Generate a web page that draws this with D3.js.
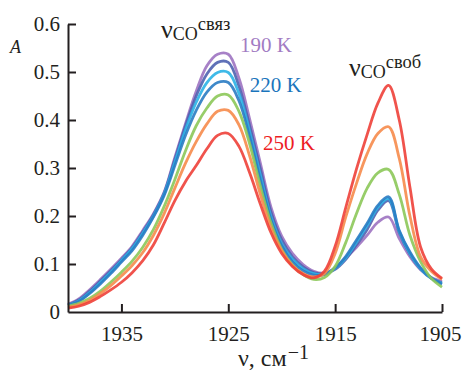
<!DOCTYPE html>
<html>
<head>
<meta charset="utf-8">
<script src="https://cdn.jsdelivr.net/npm/d3@7"></script>
<style>
  html, body { margin: 0; padding: 0; background: #fff; }
  svg { display: block; }
</style>
</head>
<body>
<svg id="chart" width="462" height="372" font-family="Liberation Serif"></svg>
<script>
// ---- data ----
const wavenumbers = [1940,1939,1938,1937,1936,1935,1934,1933,1932,1931,1930,1929,1928,1927,1926,1925,1924,1923,1922,1921,1920,1919,1918,1917,1916,1915,1914,1913,1912,1911,1910,1909,1908,1907,1906,1905];
const temperatures = ["190 K","200 K","210 K","220 K","230 K","240 K","250 K"];
const a190 = [.016,.027,.046,.067,.089,.112,.137,.170,.205,.250,.322,.393,.460,.513,.537,.537,.487,.402,.310,.218,.158,.122,.099,.085,.081,.092,.113,.135,.160,.187,.198,.153,.115,.088,.072,.064];
const a200 = [.015,.025,.043,.064,.086,.109,.134,.167,.203,.248,.318,.388,.450,.496,.520,.520,.470,.388,.298,.208,.150,.115,.094,.082,.080,.089,.110,.140,.172,.212,.232,.165,.120,.089,.070,.061];
const a210 = [.014,.023,.040,.061,.083,.107,.132,.164,.200,.246,.312,.380,.437,.478,.499,.499,.455,.375,.285,.198,.142,.110,.090,.080,.079,.091,.113,.146,.180,.218,.236,.168,.122,.090,.070,.060];
const a220 = [.014,.022,.038,.058,.080,.104,.128,.160,.198,.243,.305,.368,.420,.458,.478,.478,.440,.365,.275,.192,.138,.105,.086,.077,.078,.092,.116,.150,.185,.222,.240,.170,.125,.092,.071,.058];
const a230 = [.012,.018,.028,.043,.062,.083,.106,.135,.172,.220,.276,.336,.388,.425,.450,.452,.418,.350,.262,.185,.130,.098,.078,.068,.072,.095,.145,.205,.258,.290,.297,.245,.160,.105,.070,.052];
const a240 = [.010,.015,.024,.038,.055,.075,.097,.124,.160,.205,.258,.310,.355,.392,.418,.420,.390,.325,.245,.175,.128,.097,.080,.073,.080,.122,.198,.268,.330,.372,.386,.320,.200,.115,.085,.068];
const a250 = [.008,.012,.020,.032,.046,.062,.082,.107,.140,.185,.232,.272,.305,.340,.368,.372,.345,.290,.225,.165,.122,.095,.078,.071,.085,.137,.218,.298,.370,.435,.472,.400,.260,.135,.090,.070];
const seriesValues = [a190, a200, a210, a220, a230, a240, a250];
const seriesColors = ["#9d73c1","#4f62b0","#2bb3e6","#2a7cc3","#8cc859","#f68b4b","#ee4038"];
const xTicks = [1935, 1925, 1915, 1905];
const yTicks = [0, 0.1, 0.2, 0.3, 0.4, 0.5, 0.6];
const labels = [
  {text: "190 K", color: "#a27cc3", w: 1923.9, a: 0.542},
  {text: "220 K", color: "#1a75bc", w: 1923.0, a: 0.459},
  {text: "250 K", color: "#ed1c24", w: 1921.75, a: 0.3375}
];

// ---- chart ----
const FONT = "Liberation Serif";
const INK = "#231f20";
const svg = d3.select("#chart");
const x = d3.scaleLinear().domain([1940, 1905]).range([68, 442]);
const y = d3.scaleLinear().domain([0, 0.6]).range([312, 24]);

const line = d3.line()
  .x((d, i) => x(wavenumbers[i]))
  .y(d => y(d))
  .curve(d3.curveCatmullRom.alpha(0.5));

svg.append("g").selectAll("path")
  .data(seriesValues)
  .join("path")
  .attr("d", d => line(d))
  .attr("fill", "none")
  .attr("stroke", (d, i) => seriesColors[i])
  .attr("stroke-width", 2.8)
  .attr("stroke-opacity", 0.9)
  .attr("stroke-linejoin", "round");

const fmt = d => d === 0 ? "0" : d3.format(".1f")(d);

const yAxis = svg.append("g")
  .attr("transform", "translate(68,0)")
  .call(d3.axisLeft(y).tickValues(yTicks).tickFormat(fmt).tickSizeInner(-8).tickSizeOuter(0).tickPadding(8));
yAxis.selectAll(".tick").filter(d => d === 0).select("line").remove();

const xAxis = svg.append("g")
  .attr("transform", "translate(0,312)")
  .call(d3.axisBottom(x).tickValues(xTicks).tickFormat(d3.format("d")).tickSizeInner(-8).tickSizeOuter(0).tickPadding(14.5));

[yAxis, xAxis].forEach(g => {
  g.attr("font-family", FONT);
  g.select(".domain").attr("stroke", INK).attr("stroke-width", 2);
  g.selectAll(".tick line").attr("stroke", INK).attr("stroke-width", 2);
  g.selectAll(".tick text").attr("font-family", FONT).attr("font-size", 21).attr("fill", INK);
});
// keep the last x label inside the picture
xAxis.selectAll(".tick").filter(d => d === 1905).select("text").attr("text-anchor", "end").attr("x", 19);

// axis titles
svg.append("text").attr("x", 10).attr("y", 53).attr("font-family", FONT).attr("fill", INK)
  .attr("font-size", 18).attr("font-style", "italic").text("A");

const xt = svg.append("text").attr("x", 238).attr("y", 366).attr("font-family", FONT).attr("fill", INK).attr("font-size", 24);
xt.append("tspan").text("ν, см");
xt.append("tspan").attr("dx", 1).attr("dy", -7).attr("font-size", 20).text("−1");

// peak annotations
function nuLabel(px, py, sup) {
  const t = svg.append("text").attr("x", px).attr("y", py).attr("font-family", FONT).attr("fill", INK);
  t.append("tspan").attr("font-size", 26).text("ν");
  t.append("tspan").attr("font-size", 18).attr("dy", 2).text("CO");
  t.append("tspan").attr("font-size", 18.5).attr("dy", -10).text(sup);
}
nuLabel(161, 38, "связ");
nuLabel(349, 76, "своб");

// temperature labels
svg.append("g").selectAll("text")
  .data(labels)
  .join("text")
  .attr("x", d => x(d.w))
  .attr("y", d => y(d.a))
  .attr("font-family", FONT)
  .attr("font-size", 21)
  .attr("fill", d => d.color)
  .text(d => d.text);
</script>
</body>
</html>
